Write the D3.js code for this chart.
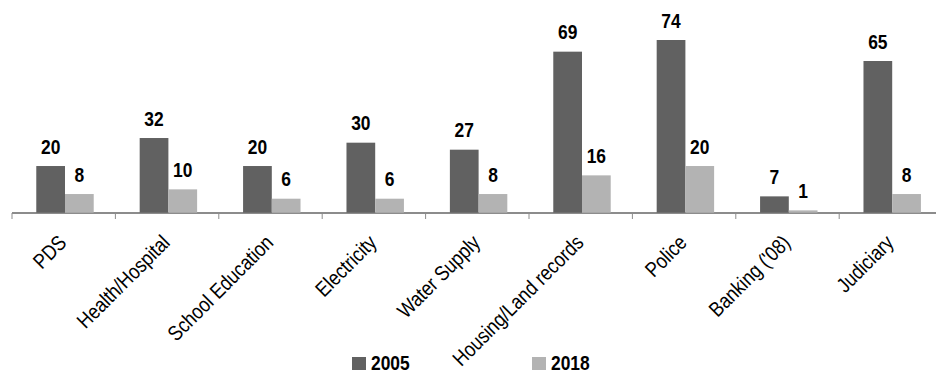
<!DOCTYPE html>
<html>
<head>
<meta charset="utf-8">
<script src="https://cdn.jsdelivr.net/npm/d3@7"></script>
<style>
  body { margin: 0; background: #fff; }
  svg text { font-family: "Liberation Sans", Arial, sans-serif; }
</style>
</head>
<body>
<script>
'use strict';

// chart data
let categories = ["PDS", "Health/Hospital", "School Education", "Electricity", "Water Supply",
  "Housing/Land records", "Police", "Banking ('08)", "Judiciary"];
let values2005 = [20, 32, 20, 30, 27, 69, 74, 7, 65];
let values2018 = [8, 10, 6, 6, 8, 16, 20, 1, 8];
let seriesNames = ["2005", "2018"];
let seriesColors = ["#616161", "#b3b3b3"];

(function() {
  let width = 936, height = 373;
  let narrow = 0.87; // squeeze Liberation Sans to look like a narrow face

  let svg = d3.select('body').append('svg')
    .attr('width', width)
    .attr('height', height);

  // x band per category, ticks sit on band edges
  let step = 103.4;
  let x = d3.scaleBand()
    .domain(categories)
    .range([12, 12 + step * categories.length])
    .paddingInner(0)
    .paddingOuter(0);

  let xSeries = d3.scaleBand()
    .domain(seriesNames)
    .range([0, x.bandwidth()])
    .paddingOuter(0.8)
    .paddingInner(0);

  let y = d3.scaleLinear()
    .domain([0, 74])
    .range([212.7, 40]);

  // axis line + tick marks at band boundaries
  let axisY = 213;
  svg.append('line')
    .attr('x1', 12).attr('x2', width)
    .attr('y1', axisY).attr('y2', axisY)
    .attr('stroke', '#8c8c8c')
    .attr('stroke-width', 2);
  svg.selectAll('.tick')
    .data(categories)
    .enter()
    .append('line')
    .attr('x1', (d) => x(d)).attr('x2', (d) => x(d))
    .attr('y1', axisY).attr('y2', axisY + 6)
    .attr('stroke', '#8c8c8c')
    .attr('stroke-width', 1);

  // bars
  let rows = categories.map((c, i) => ({cat: c, vals: [values2005[i], values2018[i]]}));
  let groups = svg.selectAll('.grp')
    .data(rows)
    .enter()
    .append('g')
    .attr('transform', (d) => 'translate(' + (x(d.cat) + 1.3) + ',0)');

  groups.selectAll('rect')
    .data((d) => d.vals.map((v, j) => ({name: seriesNames[j], v: v, j: j})))
    .enter()
    .append('rect')
    .attr('x', (d) => xSeries(d.name))
    .attr('y', (d) => y(d.v))
    .attr('width', xSeries.bandwidth())
    .attr('height', (d) => y(0) - y(d.v))
    .attr('fill', (d) => seriesColors[d.j]);

  // value labels
  groups.selectAll('.val')
    .data((d) => d.vals.map((v, j) => ({name: seriesNames[j], v: v})))
    .enter()
    .append('text')
    .attr('transform', (d) => 'translate(' + (xSeries(d.name) + xSeries.bandwidth() / 2) + ',' + (y(d.v) - 12.5) + ')scale(' + narrow + ',1)')
    .attr('text-anchor', 'middle')
    .style('font-size', '20px')
    .style('font-weight', 'bold')
    .text((d) => d.v);

  // category labels, rotated
  svg.selectAll('.cat')
    .data(categories)
    .enter()
    .append('text')
    .attr('text-anchor', 'end')
    .attr('transform', (d) => 'translate(' + (x(d) + x.bandwidth() / 2 + 4) + ',' + 244 + ')rotate(-45)scale(0.85,1)')
    .style('font-size', '21px')
    .style('fill', '#000')
    .text((d) => d);

  // legend
  let legendX = [352, 532];
  seriesNames.forEach((s, i) => {
    svg.append('rect')
      .attr('x', legendX[i]).attr('y', 357)
      .attr('width', 14).attr('height', 13)
      .attr('fill', seriesColors[i]);
    svg.append('text')
      .attr('transform', 'translate(' + (legendX[i] + 19) + ',370)scale(' + narrow + ',1)')
      .style('font-size', '20px')
      .style('font-weight', 'bold')
      .text(s);
  });
})();
</script>
</body>
</html>
